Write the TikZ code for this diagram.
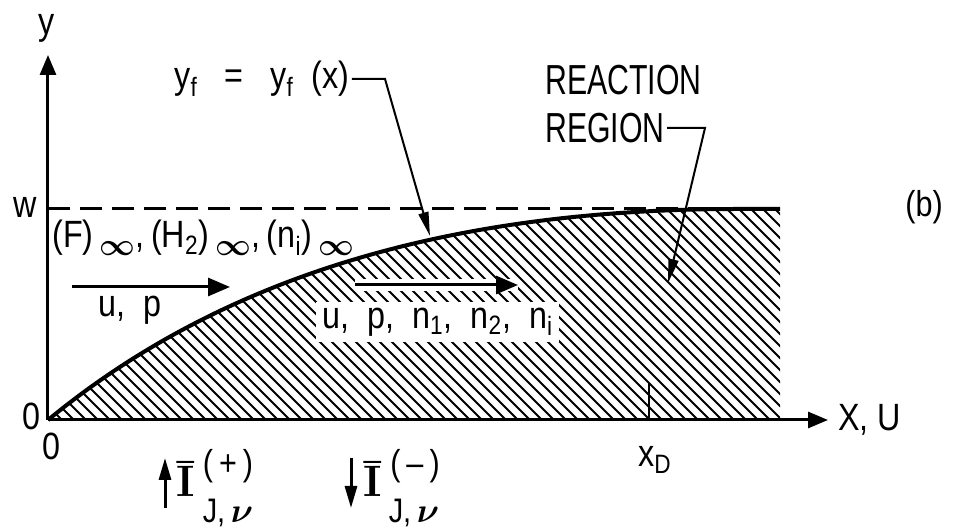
\documentclass[tikz,border=0pt]{standalone}
\usepackage{fontspec}
\setmainfont{Liberation Sans}[FakeStretch=0.85]
\newfontfamily\narrowfont{Liberation Sans}[FakeStretch=0.72]
\newfontfamily\lmfont{Latin Modern Roman}
\usetikzlibrary{arrows.meta}
\newcommand{\infsub}{\raisebox{-0.2em}{\scalebox{0.9}{\boldmath$\infty$}}}
\newcommand{\boldnu}{\mbox{\boldmath$\nu$}}

\begin{document}
\begin{tikzpicture}[x=0.5pt,y=0.5pt,
  every node/.style={font=\fontsize{19}{22}\selectfont,inner sep=1pt},
  axis/.style={line width=1.5pt,-{Triangle[length=10pt,width=8pt]}},
  lead/.style={line width=1pt,-{Triangle[length=12pt,width=5pt]}},
  flow/.style={line width=1.5pt,-{Triangle[length=11pt,width=9pt]}},
  flux/.style={line width=1.5pt,-{Triangle[length=11pt,width=6pt]}},
  hatch/.style={line width=1pt},
  barI/.style={font=\lmfont\bfseries\fontsize{22}{24}\selectfont,inner sep=0pt,anchor=base},
  small/.style={font=\fontsize{18}{20}\selectfont,inner sep=0pt},
  subtag/.style={font=\fontsize{17}{19}\selectfont,inner sep=0pt,anchor=base}]
  \useasboundingbox (-48,-109) rectangle (915,420);
  % hatched reaction zone
  \begin{scope}
    \clip (0,0) .. controls (200,165) and (450,211) .. (690,211) -- (732,211) -- (732,0) -- cycle;
    \foreach \k in {-240,-228,...,740}
      \draw[hatch] (\k,230) -- (\k+240,-10);
  \end{scope}
  \draw[line width=2pt] (0,0) .. controls (200,165) and (450,211) .. (690,211) -- (732,211);
  \draw[line width=1.5pt,dash pattern=on 11pt off 5pt] (0,211) -- (690,211);
  % axes
  \coordinate (O) at (0,0);
  \coordinate (ytip) at (0,365);
  \coordinate (xtip) at (780,0);
  \draw[axis] (O) -- (ytip);
  \draw[axis] (O) -- (xtip);
  \node (ylab) at (-1,392) {y};
  \node[anchor=west] (xlab) at (788,0) {X,\ U};
  \node (wlab) at (-23,213) {w};
  \node (zeroy) at (-17,4) {0};
  \node (zerox) at (3,-26) {0};
  \node[font=\fontsize{18}{20}\selectfont] (blab) at (876,213) {(b)};
  % end of the zone
  \coordinate (xDfoot) at (601,0);
  \coordinate (xDtop) at (601,37);
  \draw[line width=1pt] (xDfoot) -- (xDtop);
  \node (xD) at (607,-40) {x\textsubscript{D}};
  % flame sheet label
  \node (yf) at (214,341) {y\textsubscript{f}\ \ \ =\ \ \ y\textsubscript{f}\ \ (x)};
  \coordinate (yfbend) at (337,341);
  \coordinate (yftip) at (382,184);
  \draw[lead] (yf.east) -- (yf.east -| yfbend) -- (yftip);
  % reaction region label
  \node[anchor=west,font=\narrowfont\fontsize{21}{24}\selectfont] (react) at (495,340) {REACTION};
  \node[anchor=west,font=\narrowfont\fontsize{21}{24}\selectfont] (region) at (495,292) {REGION};
  \coordinate (rbend) at (657,296);
  \coordinate (rtip) at (620,137);
  \draw[lead] (region.east) -- (region.east -| rbend) -- (rtip);
  % free stream
  \node[anchor=west] (free) at (2,182) {(F)\,\infsub,\,(H\textsubscript{2})\,\infsub,\,(n\textsubscript{i})\,\infsub};
  \coordinate (f1a) at (24,133);
  \coordinate (f1b) at (182,133);
  \draw[flow] (f1a) -- (f1b);
  \node (up) at (82,110) {u,\ \ p};
  % reacting flow
  \node[anchor=west,fill=white,inner sep=3pt] (down) at (268,98) {u,\ \ p,\ \ n\textsubscript{1},\ \ n\textsubscript{2},\ \ n\textsubscript{i}};
  \coordinate (f2a) at (307,135);
  \coordinate (f2b) at (470,135);
  \draw[flow,preaction={draw=white,line width=6pt,-}] (f2a) -- (f2b);
  % radiative fluxes
  \coordinate (Ipa) at (117,-88);
  \coordinate (Ipb) at (117,-38);
  \draw[flux] (Ipa) -- (Ipb);
  \node[barI] (Ip) at (138,-77) {Ī};
  \node[small] (Ipsup) at (180,-46) {(\,+\,)};
  \node[subtag] (Ipsub) at (180,-103) {J,\,\boldnu};
  \coordinate (Ima) at (303,-38);
  \coordinate (Imb) at (303,-88);
  \draw[flux] (Ima) -- (Imb);
  \node[barI] (Im) at (325,-77) {Ī};
  \node[small] (Imsup) at (367,-46) {(\,--\,)};
  \node[subtag] (Imsub) at (366,-103) {J,\,\boldnu};
\end{tikzpicture}
\end{document}
